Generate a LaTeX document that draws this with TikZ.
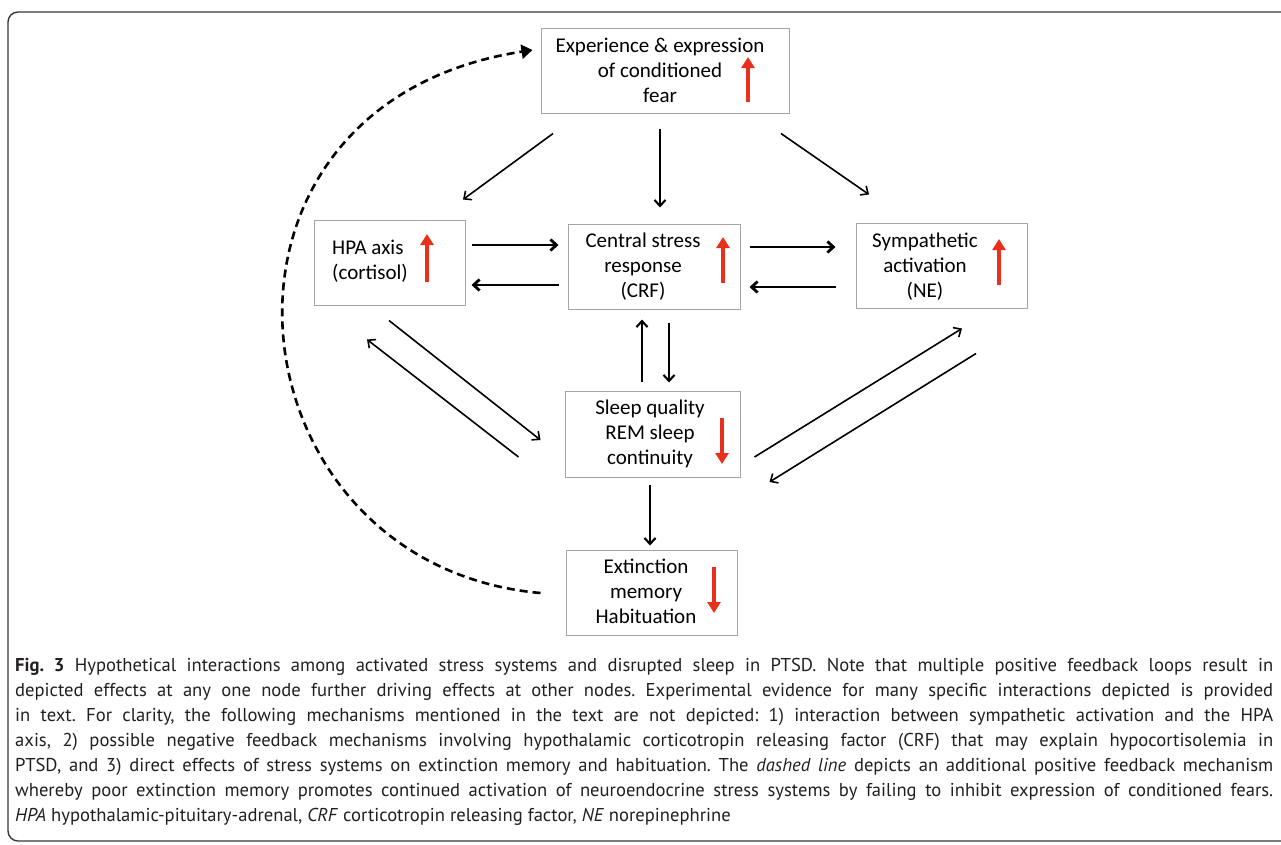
\documentclass[tikz,border=0pt]{standalone}
\usepackage{fontspec}
\setmainfont{Carlito}
\newfontfamily\capfont{PT Sans}
\usetikzlibrary{arrows.meta}
\definecolor{upred}{RGB}{232,48,28}
\definecolor{boxgray}{RGB}{165,165,165}
\definecolor{framegray}{RGB}{55,55,55}
\definecolor{captext}{RGB}{35,31,32}
\frenchspacing
\tikzset{
  box/.style={draw=boxgray, line width=1pt, inner sep=0pt},
  txt/.style={inner sep=0pt, align=center, font=\fontsize{21}{25}\selectfont},
  redarrow/.style={draw=upred, line width=3.2pt, -{Triangle[length=11pt,width=13pt]}},
  thinarr/.style={line width=1.6pt, -{Straight Barb[length=6pt,width=11pt]}},
  midarr/.style={line width=2.1pt, -{Straight Barb[length=6pt,width=11pt]}},
  thickarr/.style={line width=2.8pt, -{Straight Barb[length=6pt,width=11pt]}},
  dasharr/.style={line width=2.6pt, dash pattern=on 8pt off 5pt, -{Triangle[length=11pt,width=14pt]}},
  capline/.style={inner sep=0pt, anchor=base west, text=captext, font=\capfont\fontsize{18.6}{25}\selectfont}
}
\begin{document}
\begin{tikzpicture}[x=1pt,y=-1pt]
\useasboundingbox (0,0) rectangle (1281,844);
\fill[white] (0,0) rectangle (1281,844);
\draw[framegray, line width=1.4pt, rounded corners=10pt] (8,12) rectangle (1300,841);

% boxes
\node[box, minimum width=248pt, minimum height=85pt] (fear) at (665,70.5) {};
\node[box, minimum width=151pt, minimum height=85pt] (hpa) at (389.5,262.5) {};
\node[box, minimum width=172pt, minimum height=85pt] (crf) at (654,266.5) {};
\node[box, minimum width=171pt, minimum height=85pt] (sym) at (941.5,265.5) {};
\node[box, minimum width=175pt, minimum height=86pt] (sleep) at (652.5,434) {};
\node[box, minimum width=171pt, minimum height=85pt] (ext) at (651.5,592.5) {};

% texts
\node[txt] (feart) at (660,70) {Experience \& expression\\of conditioned\\fear};
\node[txt, align=left, anchor=west] (hpat) at (332,261) {HPA axis\\(cortisol)};
\node[txt] (crft) at (643,267) {Central stress\\response\\(CRF)};
\node[txt] (symt) at (925,267) {Sympathetic\\activation\\(NE)};
\node[txt] (sleept) at (650,434) {Sleep quality\\REM sleep\\continuity};
\node[txt] (extt) at (646,591) {Extinction\\memory\\Habituation};

% red indicators
\draw[redarrow] (748,102) -- (748,57);
\draw[redarrow] (427,282) -- (427,234);
\draw[redarrow] (723,283) -- (723,237);
\draw[redarrow] (999,285) -- (999,239);
\draw[redarrow] (722,418) -- (722,464);
\draw[redarrow] (714,567) -- (714,613);

% connectors
\draw[thinarr] ([shift={(-112,20)}]fear.south) -- ([shift={(73.5,-20)}]hpa.north);
\draw[midarr] ([shift={(-5,15)}]fear.south) -- ([shift={(6,-16)}]crf.north);
\draw[thinarr] ([shift={(116,20)}]fear.south) -- ([shift={(-72.5,-28)}]sym.north);

\draw[thickarr] ([shift={(6,-17.5)}]hpa.east) -- ([shift={(-9,-21.5)}]crf.west);
\draw[thickarr] ([shift={(-9,18.5)}]crf.west) -- ([shift={(6,22.5)}]hpa.east);
\draw[thickarr] ([shift={(9,-19.5)}]crf.east) -- ([shift={(-20,-18.5)}]sym.west);
\draw[thickarr] ([shift={(-20,21.5)}]sym.west) -- ([shift={(9,20.5)}]crf.east);

\draw[midarr] ([shift={(-10.5,-9)}]sleep.north) -- ([shift={(-12,10)}]crf.south);
\draw[midarr] ([shift={(15,13)}]crf.south) -- ([shift={(16.5,-8)}]sleep.north);

\draw[thinarr] ([shift={(-0.5,15)}]hpa.south) -- ([shift={(-24,6)}]sleep.west);
\draw[thinarr] ([shift={(-46,23)}]sleep.west) -- ([shift={(-22.5,34)}]hpa.south);
\draw[thinarr] ([shift={(14,23)}]sleep.east) -- ([shift={(20.5,20)}]sym.south);
\draw[thinarr] ([shift={(34.5,45)}]sym.south) -- ([shift={(29,48)}]sleep.east);

\draw[midarr] ([shift={(-2.5,7)}]sleep.south) -- ([shift={(-1.5,-4)}]ext.north);

\draw[dasharr] ([shift={(-25,0.5)}]ext.west) .. controls (225,565) and (175,105) .. ([shift={(-8,-20.5)}]fear.west);

% caption
\node[capline] (cap1) at (15,671) {\makebox[1258pt][s]{\textbf{Fig.~3} Hypothetical interactions among activated stress systems and disrupted sleep in PTSD. Note that multiple positive feedback loops result in}};
\node[capline] (cap2) at (15,696) {\makebox[1258pt][s]{depicted effects at any one node further driving effects at other nodes. Experimental evidence for many specific interactions depicted is provided}};
\node[capline] (cap3) at (15,721) {\makebox[1258pt][s]{in text. For clarity, the following mechanisms mentioned in the text are not depicted: 1) interaction between sympathetic activation and the HPA}};
\node[capline] (cap4) at (15,746) {\makebox[1258pt][s]{axis, 2) possible negative feedback mechanisms involving hypothalamic corticotropin releasing factor (CRF) that may explain hypocortisolemia in}};
\node[capline] (cap5) at (15,771) {\makebox[1258pt][s]{PTSD, and 3) direct effects of stress systems on extinction memory and habituation. The \textit{dashed line} depicts an additional positive feedback mechanism}};
\node[capline] (cap6) at (15,796) {\makebox[1258pt][s]{whereby poor extinction memory promotes continued activation of neuroendocrine stress systems by failing to inhibit expression of conditioned fears.}};
\node[capline] (cap7) at (15,821) {\textit{HPA} hypothalamic-pituitary-adrenal, \textit{CRF} corticotropin releasing factor, \textit{NE} norepinephrine};
\end{tikzpicture}
\end{document}
